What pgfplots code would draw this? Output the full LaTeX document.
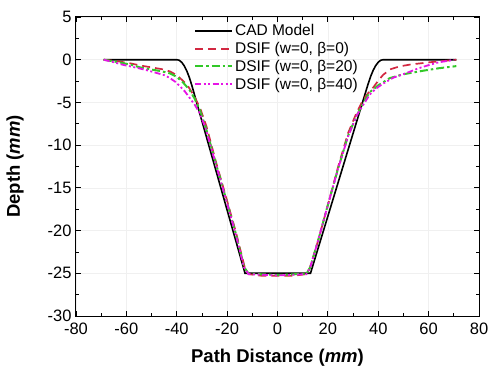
\documentclass[border=0pt]{standalone}
\usepackage{pgfplots}
\pgfplotsset{compat=1.18}
\usepackage{fontspec}
\setmainfont{Liberation Sans}
\definecolor{cred}{RGB}{210,40,65}
\definecolor{cgreen}{RGB}{50,200,40}
\definecolor{cmag}{RGB}{230,20,230}
\begin{document}
\begin{tikzpicture}
\begin{axis}[
  scale only axis, width=403bp, height=299bp,
  xmin=-80, xmax=80, ymin=-30, ymax=5,
  xtick={-80,-60,...,80}, ytick={-30,-25,...,5},
  minor x tick num=1, minor y tick num=1,
  tick align=inside, xtick pos=both, ytick pos=both,
  major tick length=5bp, minor tick length=3bp,
  every tick/.style={black, line width=0.8bp},
  axis line style={line width=1bp},
  grid=major, major grid style={gray!12, line width=0.6bp},
  /pgf/number format/assume math mode=true,
  tick label style={font=\fontsize{16.5bp}{19bp}\selectfont},
  xticklabel style={yshift=-3bp},
  yticklabel style={xshift=-1bp},
  xlabel={\textbf{Path Distance (\textit{mm})}},
  ylabel={\textbf{Depth (\textit{mm})}},
  every axis x label/.style={at={(axis description cs:0.5,-0.14)}, anchor=center, font=\fontsize{18.5bp}{21bp}\selectfont},
  every axis y label/.style={at={(axis description cs:-0.151,0.5)}, anchor=center, rotate=90, font=\fontsize{18.5bp}{21bp}\selectfont},
  legend style={at={(axis description cs:0.29,0.985)}, anchor=north west, draw=none, fill=none,
    font=\fontsize{15.5bp}{18bp}\selectfont, row sep=1bp, inner sep=1bp},
  legend cell align=left,
  legend image code/.code={\draw[#1] (0bp,0bp) -- (37bp,0bp);},
]
\addplot[black, line width=1.6bp] coordinates {
(-69,0) (-39.9,0) (-39,-0.07) (-38,-0.31) (-37,-0.73) (-36,-1.32) (-35,-2.08) (-34,-3.02) (-33.9,-3.12)
(-12.9,-25) (13.1,-25)
(35.9,-2.91) (36,-2.81) (37,-1.94) (38,-1.23) (39,-0.68) (40,-0.29) (41,-0.065) (41.9,0) (71,0)
};
\addlegendentry{CAD Model}
\addplot[cred, line width=1.7bp, dash pattern=on 8bp off 5bp] coordinates {
(-69,0) (-63,-0.2) (-58,-0.45) (-54.6,-0.67) (-50,-0.9) (-46,-1.1) (-42.7,-1.37) (-40,-1.8) (-37.4,-2.5)
(-35.3,-3.2) (-33.4,-4.1) (-30.8,-5.6) (-28.2,-7.8) (-24.4,-12) (-20.5,-16) (-16.5,-20.2) (-13,-24.3)
(-11.5,-25.1) (-6,-25.3) (0,-25.3) (6,-25.3) (11.5,-25.1) (12.8,-24.4) (16,-21.3) (20,-17) (24.1,-12.5)
(28,-8.6) (31.4,-6.2) (34,-4.7) (36,-3.9) (38,-3.25) (40,-2.45) (42,-1.75) (45,-1.1) (48.5,-0.78)
(53,-0.55) (57.8,-0.39) (62,-0.25) (67,-0.12) (71,0)
};
\addlegendentry{DSIF (w=0, β=0)}
\addplot[cgreen, line width=2bp, dash pattern=on 8bp off 3bp on 2.5bp off 3bp] coordinates {
(-69,0) (-63,-0.3) (-58,-0.6) (-54.6,-0.9) (-50,-1.15) (-46,-1.35) (-42.7,-1.6) (-40,-2.0) (-37.4,-2.7)
(-35,-3.5) (-33,-4.5) (-30.8,-5.9) (-28.4,-8) (-24.6,-12) (-20.7,-16) (-16.7,-20.2) (-13.2,-24.3)
(-11.5,-25.05) (0,-25.2) (11.5,-25.05) (13,-24.3) (16,-21.3) (20,-17) (24,-12.8) (28,-8.9) (31.5,-6.5)
(34,-5.1) (36.6,-3.8) (40,-3.0) (44.6,-2.15) (50,-1.7) (57.8,-1.29) (64,-1.0) (71,-0.75)
};
\addlegendentry{DSIF (w=0, β=20)}
\addplot[cmag, line width=1.8bp, dash pattern=on 6bp off 2.5bp on 2bp off 2.5bp on 2bp off 2.5bp] coordinates {
(-69,0) (-65,-0.3) (-61.3,-0.6) (-55,-1.0) (-51,-1.3) (-47.9,-1.56) (-45,-1.8) (-42.7,-2.15) (-40.5,-2.6)
(-38.8,-3.1) (-36.8,-3.7) (-34.8,-4.5) (-32.8,-5.3) (-30.8,-6.3) (-28.6,-8) (-24.7,-12) (-20.8,-16)
(-16.8,-20.2) (-13.3,-24.3) (-11.5,-25.1) (0,-25.25) (11.5,-25.1) (13,-24.3) (16,-21.3) (20,-17)
(24,-12.8) (28,-9) (31.5,-6.5) (34,-5.3) (36.6,-4.1) (39,-3.4) (41.9,-2.8) (46,-2.1) (51.2,-1.56)
(56,-1.0) (60.4,-0.6) (64,-0.3) (68.4,-0.1) (70,0)
};
\addlegendentry{DSIF (w=0, β=40)}
\end{axis}
\path (current axis.south west) ++(-76bp,-73bp) rectangle ++(500bp,389bp);
\end{tikzpicture}
\end{document}
